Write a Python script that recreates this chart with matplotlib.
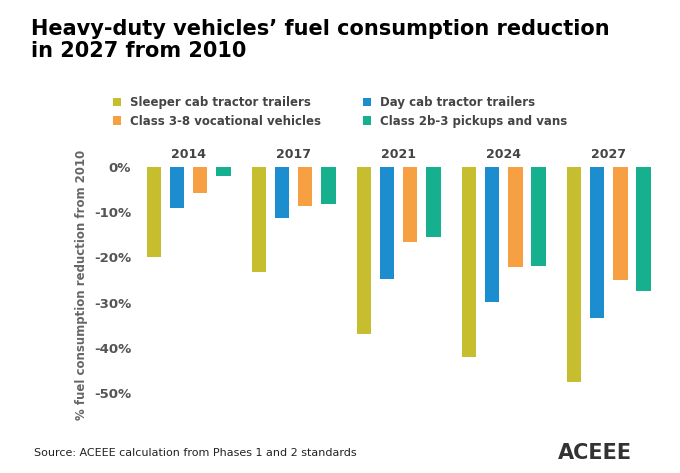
import matplotlib.pyplot as plt
import numpy as np

years = ["2014", "2017", "2021", "2024", "2027"]
series_names = ["Sleeper cab tractor trailers", "Day cab tractor trailers",
                "Class 3-8 vocational vehicles", "Class 2b-3 pickups and vans"]
sleeper = [-20.0, -23.3, -37.0, -42.0, -47.5]
daycab = [-9.0, -11.2, -24.8, -29.8, -33.3]
vocational = [-5.7, -8.7, -16.7, -22.2, -25.0]
pickups = [-2.0, -8.3, -15.6, -21.8, -27.5]
colors = ["#C6BE2E", "#1C8ED0", "#F7A043", "#17B08E"]

fig = plt.figure(figsize=(6.8, 4.73), dpi=100)
ax = fig.add_axes([0.2, 0.15, 0.78, 0.497])

x = np.arange(len(years))
w = 0.14
gap = 0.22
handles = []
for i, (vals, c) in enumerate(zip([sleeper, daycab, vocational, pickups], colors)):
    h = ax.bar(x + (i - 1.5) * gap, vals, w, color=c, label=series_names[i])
    handles.append(h)

ax.set_xlim(-0.5, 4.55)
ax.set_ylim(-52, 0)
ax.set_yticks([0, -10, -20, -30, -40, -50])
ax.set_yticklabels(["0%", "-10%", "-20%", "-30%", "-40%", "-50%"], fontsize=9.5, fontweight="bold", color="#555555")
ax.set_xticks([])
for s in ax.spines.values():
    s.set_visible(False)
ax.tick_params(axis="y", length=0)
for xi, yr in zip(x, years):
    ax.text(xi, 1.3, yr, ha="center", va="bottom", fontsize=9, fontweight="bold", color="#444444")
ax.set_ylabel("% fuel consumption reduction from 2010", fontsize=8.5, fontweight="bold", color="#666666")

order = [0, 2, 1, 3]
fig.legend(handles=[handles[i] for i in order], labels=[series_names[i] for i in order],
           loc="upper left", bbox_to_anchor=(0.15, 0.82),
           ncol=2, frameon=False, handlelength=0.7, handleheight=0.7,
           columnspacing=3.5, labelcolor="#444444", prop={"weight": "bold", "size": 8.5})

fig.text(0.045, 0.96, "Heavy-duty vehicles\u2019 fuel consumption reduction\nin 2027 from 2010",
         fontsize=15, fontweight="bold", va="top", linespacing=1.15)
fig.text(0.05, 0.035, "Source: ACEEE calculation from Phases 1 and 2 standards", fontsize=8, color="#222222")
fig.text(0.93, 0.03, "ACEEE", fontsize=15, fontweight="bold", ha="right", color="#333333")

fig.savefig("out.png", dpi=100)
